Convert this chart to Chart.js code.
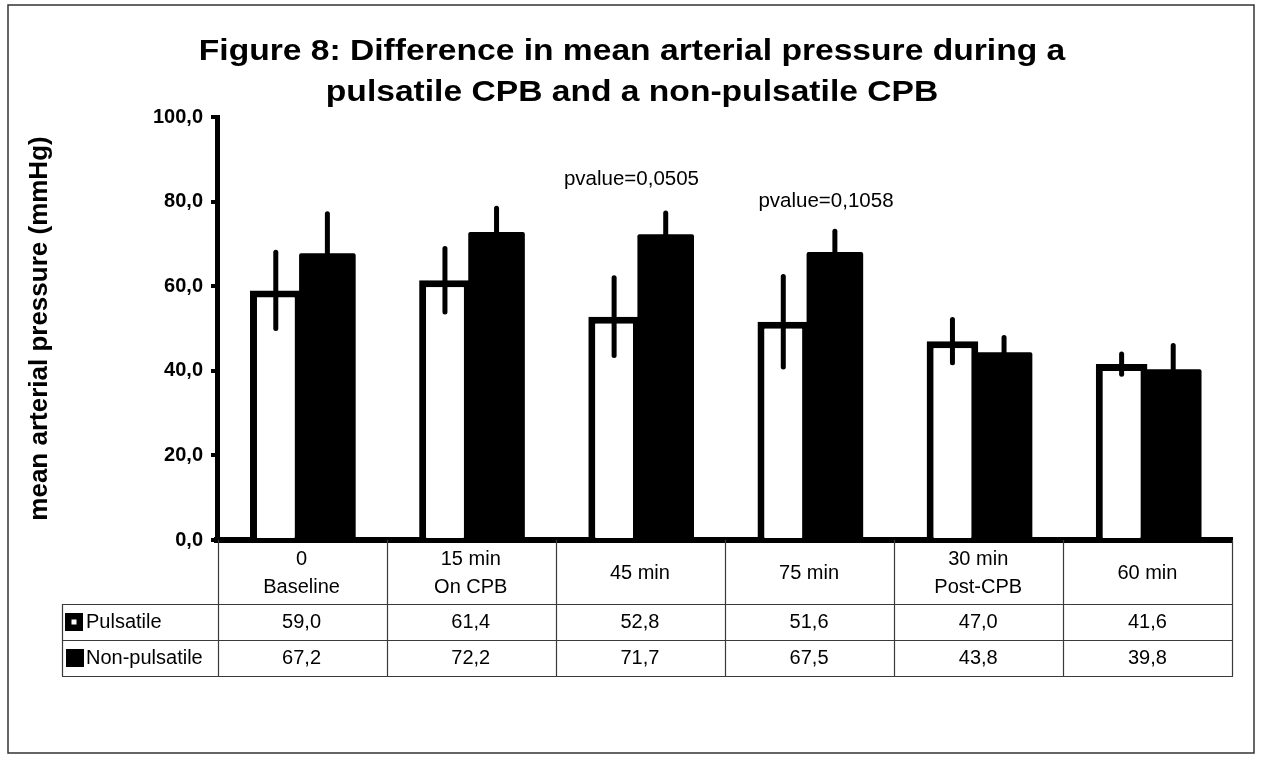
<!DOCTYPE html>
<html>
<head>
<meta charset="utf-8">
<script src="https://cdn.jsdelivr.net/npm/chart.js@4.4.1/dist/chart.umd.min.js"></script>
<style>
  html, body { margin: 0; padding: 0; background: #ffffff; }
  #wrap { width: 1261px; height: 763px; position: relative; }
</style>
</head>
<body>
<div id="wrap"><canvas id="c" width="1261" height="763"></canvas></div>
<script>
// ---- data ----
const titleLines = ['Figure 8: Difference in mean arterial pressure during a', 'pulsatile CPB and a non-pulsatile CPB'];
const yAxisTitle = 'mean arterial pressure (mmHg)';
const categories = [['0', 'Baseline'], ['15 min', 'On CPB'], ['45 min'], ['75 min'], ['30 min', 'Post-CPB'], ['60 min']];
const seriesNames = ['Pulsatile', 'Non-pulsatile'];
const pulsatile = [59.0, 61.4, 52.8, 51.6, 47.0, 41.6];
const nonPulsatile = [67.2, 72.2, 71.7, 67.5, 43.8, 39.8];
const pulsatileSD = [9.0, 7.5, 9.2, 10.7, 5.1, 2.4];
const nonPulsatileSD = [9.9, 6.2, 5.6, 5.5, 4.1, 6.2];
const yTickLabels = ['0,0', '20,0', '40,0', '60,0', '80,0', '100,0'];
const pValueTexts = ['pvalue=0,0505', 'pvalue=0,1058'];
const pValueCategory = [2, 3];
const pValueLevel = [85.2, 80.0];

const FONT = '"Liberation Sans", Arial, sans-serif';
const fmt = v => v.toFixed(1).replace('.', ',');

const errorBars = {
  id: 'errorBars',
  afterDatasetsDraw(chart) {
    const ctx = chart.ctx;
    const y = chart.scales.y;
    const sds = [pulsatileSD, nonPulsatileSD];
    ctx.save();
    ctx.strokeStyle = '#000';
    ctx.lineWidth = 5;
    ctx.lineCap = 'round';
    chart.data.datasets.forEach((ds, di) => {
      const meta = chart.getDatasetMeta(di);
      meta.data.forEach((bar, i) => {
        const v = ds.data[i], sd = sds[di][i];
        ctx.beginPath();
        ctx.moveTo(bar.x, y.getPixelForValue(v + sd));
        ctx.lineTo(bar.x, y.getPixelForValue(v - sd));
        ctx.stroke();
      });
    });
    ctx.restore();
  }
};

const decorations = {
  id: 'decorations',
  afterDraw(chart) {
    const ctx = chart.ctx;
    const x = chart.scales.x, y = chart.scales.y;
    const area = chart.chartArea;
    ctx.save();
    // outer frame
    ctx.strokeStyle = '#333';
    ctx.lineWidth = 1.5;
    ctx.strokeRect(8, 5, 1246, 748);

    // title (slightly wide lettering, as in the reference)
    ctx.fillStyle = '#000';
    ctx.textAlign = 'center';
    ctx.textBaseline = 'alphabetic';
    ctx.font = 'bold 30px ' + FONT;
    ctx.save();
    ctx.translate(632, 0);
    ctx.scale(1.12, 1);
    ctx.fillText(titleLines[0], 0, 60);
    ctx.fillText(titleLines[1], 0, 101);
    ctx.restore();

    // p-values
    ctx.font = '20.5px ' + FONT;
    ctx.textBaseline = 'middle';
    const pOffsets = [-0.05, 0.1];
    pValueTexts.forEach((t, k) => {
      ctx.fillText(t, x.getPixelForValue(pValueCategory[k] + pOffsets[k]), y.getPixelForValue(pValueLevel[k]));
    });

    // data table
    const n = categories.length;
    const left = area.left + 1, right = area.right;
    const colW = (right - left) / n;
    const top = area.bottom;
    const hdrBottom = top + 64, row1 = hdrBottom + 36, row2 = row1 + 36;
    const legLeft = 62;
    ctx.strokeStyle = '#3a3a3a';
    ctx.lineWidth = 1.2;
    ctx.beginPath();
    for (let k = 0; k <= n; k++) {
      const xx = Math.round(left + k * colW) + 0.5;
      ctx.moveTo(xx, top);
      ctx.lineTo(xx, row2);
    }
    ctx.moveTo(legLeft + 0.5, hdrBottom);
    ctx.lineTo(legLeft + 0.5, row2);
    [hdrBottom, row1, row2].forEach(yy => {
      ctx.moveTo(legLeft, yy + 0.5);
      ctx.lineTo(right + 1, yy + 0.5);
    });
    ctx.stroke();

    ctx.fillStyle = '#000';
    ctx.font = '20px ' + FONT;
    ctx.textAlign = 'center';
    ctx.textBaseline = 'middle';
    categories.forEach((lines, i) => {
      const cx = x.getPixelForValue(i);
      const cy = (top + hdrBottom) / 2 + 1;
      if (lines.length === 1) {
        ctx.fillText(lines[0], cx, cy);
      } else {
        ctx.fillText(lines[0], cx, cy - 14);
        ctx.fillText(lines[1], cx, cy + 14);
      }
      ctx.fillText(fmt(pulsatile[i]), cx, (hdrBottom + row1) / 2);
      ctx.fillText(fmt(nonPulsatile[i]), cx, (row1 + row2) / 2);
    });

    // legend keys in table
    ctx.fillStyle = '#000';
    ctx.fillRect(65, (hdrBottom + row1) / 2 - 9, 18, 18);
    ctx.fillStyle = '#fff';
    ctx.fillRect(71.5, (hdrBottom + row1) / 2 - 2.5, 5, 5);
    ctx.fillStyle = '#000';
    ctx.fillRect(66, (row1 + row2) / 2 - 9, 18, 18);
    ctx.textAlign = 'left';
    ctx.fillText(seriesNames[0], 86, (hdrBottom + row1) / 2);
    ctx.fillText(seriesNames[1], 86, (row1 + row2) / 2);
    ctx.restore();
  }
};

new Chart(document.getElementById('c'), {
  type: 'bar',
  data: {
    labels: categories,
    datasets: [
      {
        label: seriesNames[0],
        data: pulsatile,
        backgroundColor: '#ffffff',
        borderColor: '#000000',
        borderWidth: 7,
        inflateAmount: 0,
        barPercentage: 1.0,
        categoryPercentage: 0.61
      },
      {
        label: seriesNames[1],
        data: nonPulsatile,
        backgroundColor: '#000000',
        borderColor: '#000000',
        borderWidth: 0,
        borderRadius: 2,
        inflateAmount: 2.5,
        barPercentage: 1.0,
        categoryPercentage: 0.61
      }
    ]
  },
  options: {
    responsive: false,
    animation: false,
    devicePixelRatio: 1,
    layout: { padding: { top: 117, right: 29, bottom: 223, left: 0 } },
    plugins: {
      legend: { display: false },
      title: { display: false },
      tooltip: { enabled: false }
    },
    scales: {
      x: {
        z: 1,
        ticks: { display: false },
        grid: { display: false, drawTicks: false },
        border: { display: true, color: '#000', width: 6 },
        afterFit: s => { s.height = 0; }
      },
      y: {
        z: 1,
        min: 0,
        max: 100,
        ticks: {
          stepSize: 20,
          padding: 8,
          color: '#000',
          font: { family: FONT, size: 20, weight: 'bold' },
          callback: (v, i) => yTickLabels[i]
        },
        grid: { display: true, drawOnChartArea: false, drawTicks: true, tickLength: 6, lineWidth: 4, color: '#000' },
        border: { display: true, color: '#000', width: 5 },
        title: {
          display: true,
          text: yAxisTitle,
          color: '#000',
          font: { family: FONT, size: 26, weight: 'bold' },
          padding: { top: 24, bottom: 0 }
        },
        afterFit: s => { s.width = 217; }
      }
    }
  },
  plugins: [errorBars, decorations]
});
</script>
</body>
</html>
